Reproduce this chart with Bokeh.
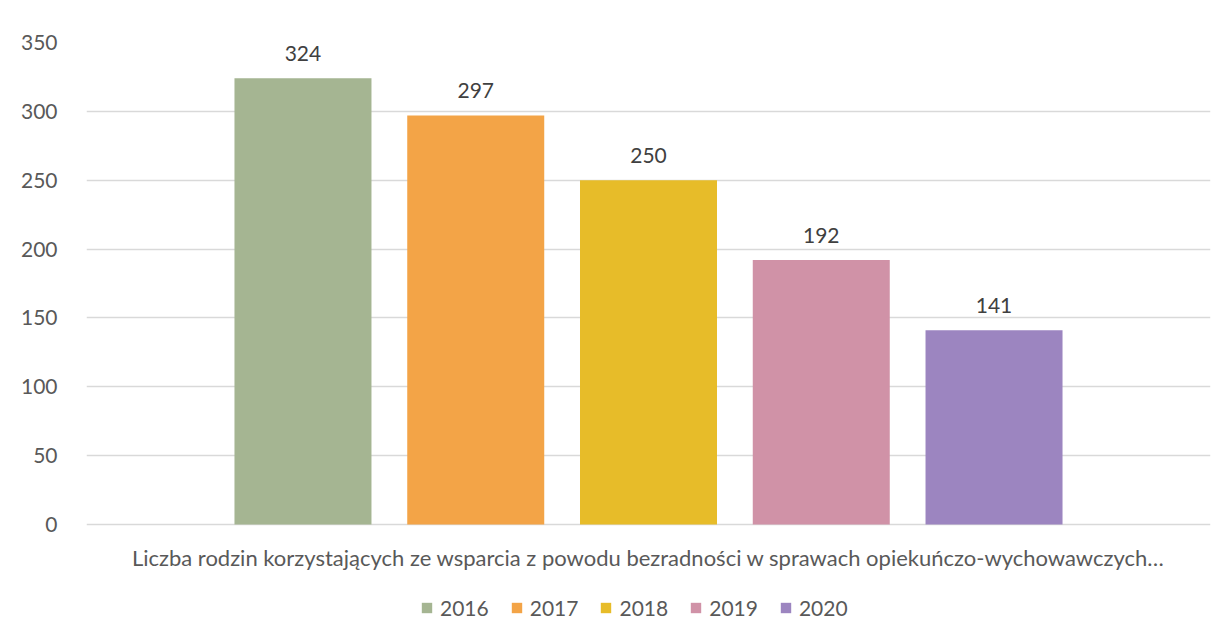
from bokeh.plotting import figure
from bokeh.models import ColumnDataSource, Range1d, FixedTicker, LabelSet, Label, Legend, LegendItem
from bokeh.core.properties import value
from bokeh.embed import file_html
from bokeh.resources import INLINE

# ---- data ----
years = ["2016", "2017", "2018", "2019", "2020"]
counts = [324, 297, 250, 192, 141]
colors = ["#A5B592", "#F3A447", "#E7BC29", "#D092A7", "#9C85C0"]
category_label = "Liczba rodzin korzystających ze wsparcia z powodu bezradności w sprawach opiekuńczo-wychowawczych…"
y_ticks = [0, 50, 100, 150, 200, 250, 300, 350]

FONT = "Lato"
TXT = "#595959"
GRID = "#D9D9D9"

pos = list(range(len(years)))
src = ColumnDataSource(dict(x=pos, year=years, v=counts, c=colors,
                            lab=[str(v) for v in counts]))

# frame spans the plot area plus the space below it (category label + legend)
p = figure(width=1222, height=635, output_backend="svg", toolbar_location=None,
           x_axis_location=None,
           x_range=Range1d(-1.253, len(years) - 1 + 1.253),
           y_range=Range1d(-80.6, 350),
           min_border_left=86, min_border_right=12, min_border_top=42, min_border_bottom=0)
p.outline_line_color = None
p.background_fill_color = "white"
p.border_fill_color = "white"

r = p.vbar(x="x", top="v", width=0.793, fill_color="c", line_color=None, source=src)

p.add_layout(LabelSet(x="x", y="v", text="lab", source=src, y_offset=17,
                      text_align="center", text_baseline="alphabetic",
                      text_font=value(FONT), text_font_size="21px", text_color="#404040"))

# y axis
p.yaxis.ticker = FixedTicker(ticks=y_ticks)
p.yaxis.axis_line_color = None
p.yaxis.major_tick_line_color = None
p.yaxis.minor_tick_line_color = None
p.yaxis.major_label_standoff = 23
p.yaxis.major_label_text_font = FONT
p.yaxis.major_label_text_font_size = "21px"
p.yaxis.major_label_text_color = TXT

p.ygrid.ticker = FixedTicker(ticks=y_ticks)
p.ygrid.grid_line_color = GRID
p.ygrid.grid_line_width = 1.3
p.xgrid.grid_line_color = None

# category label under the bars
p.add_layout(Label(x=(len(years) - 1) / 2, y=0, y_offset=-33, text=category_label,
                   text_align="center", text_baseline="middle",
                   text_font=FONT, text_font_size="22px", text_color=TXT))

# legend
items = [LegendItem(label=y, renderers=[r], index=i) for i, y in enumerate(years)]
lg = Legend(items=items, orientation="horizontal", location=(334, 15),
            border_line_color=None, background_fill_alpha=0, padding=0, margin=0,
            spacing=21, glyph_width=13, glyph_height=13, label_standoff=7,
            label_text_font=FONT, label_text_font_size="21px", label_text_color=TXT)
p.add_layout(lg, "center")

open("out.html", "w").write(file_html(p, INLINE))
